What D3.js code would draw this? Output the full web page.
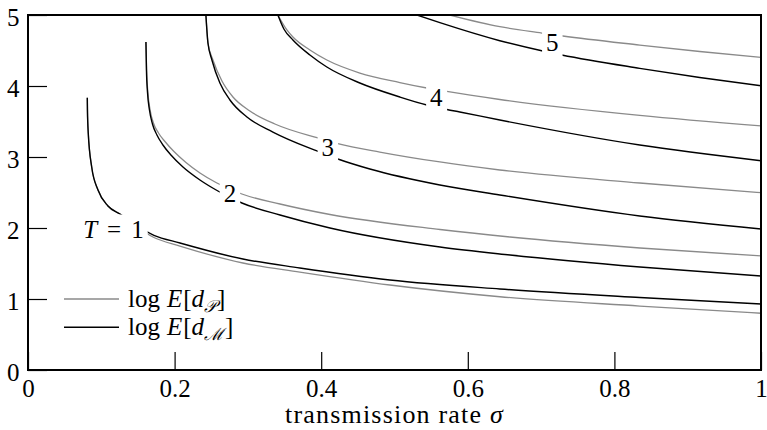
<!DOCTYPE html>
<html>
<head>
<meta charset="utf-8">
<script src="https://cdn.jsdelivr.net/npm/d3@7/dist/d3.min.js"></script>
<style>
  html, body { margin: 0; padding: 0; background: #fff; }
  svg { display: block; font-family: "Liberation Serif", "Times New Roman", "DejaVu Serif", serif; }
</style>
</head>
<body>
<svg id="chart" width="767" height="430"></svg>
<script>
// Axis ticks
const sigmaTicks = [0, 0.2, 0.4, 0.6, 0.8, 1];
const logTicks = [0, 1, 2, 3, 4, 5];
const levels = [1, 2, 3, 4, 5];

// log E[d_P] contours, one per transmission horizon T  ([sigma, log value])
const dP1 = [[0.0809,3.835],[0.0811,3.662],[0.0822,3.338],[0.0869,2.859],[0.0955,2.535],[0.1091,2.310],[0.1255,2.197],[0.1718,1.866],[0.2073,1.746],[0.2932,1.507],[0.3709,1.380],[0.4937,1.197],[0.6437,1.032],[0.8346,0.901],[1.0,0.799]];
const dP2 = [[0.1609,4.620],[0.1618,4.225],[0.1635,3.915],[0.1666,3.662],[0.1711,3.479],[0.1780,3.338],[0.1868,3.218],[0.1991,3.077],[0.2155,2.923],[0.2346,2.775],[0.2577,2.634],[0.2918,2.479],[0.3438,2.338],[0.4120,2.190],[0.5621,1.979],[0.6576,1.873],[0.8349,1.718],[1.0,1.606]];
const dP3 = [[0.2427,5.0],[0.2455,4.606],[0.2523,4.366],[0.2646,4.070],[0.2796,3.845],[0.3027,3.648],[0.3368,3.465],[0.3955,3.268],[0.4227,3.190],[0.4800,3.070],[0.5619,2.930],[0.6437,2.817],[0.8346,2.634],[1.0,2.497]];
const dP4 = [[0.3409,5.0],[0.3532,4.789],[0.3614,4.690],[0.3846,4.507],[0.4077,4.366],[0.4527,4.183],[0.5073,4.049],[0.5441,3.972],[0.5714,3.923],[0.6437,3.810],[0.8346,3.585],[1.0,3.437]];
const dP5 = [[0.5755,5.0],[0.6437,4.835],[0.7010,4.746],[0.7296,4.704],[0.8346,4.577],[0.9164,4.486],[1.0,4.404]];

// log E[d_M] contours
const dM1 = [[0.0809,3.835],[0.0811,3.662],[0.0822,3.338],[0.0869,2.859],[0.0955,2.535],[0.1091,2.310],[0.1255,2.197],[0.1718,1.897],[0.2073,1.789],[0.2932,1.563],[0.3709,1.437],[0.4937,1.268],[0.6437,1.141],[0.8346,1.021],[1.0,0.930]];
const dM2 = [[0.1609,4.620],[0.1616,4.225],[0.1630,3.915],[0.1657,3.662],[0.1698,3.465],[0.1759,3.310],[0.1841,3.169],[0.1950,3.028],[0.2114,2.859],[0.2346,2.676],[0.2591,2.521],[0.2918,2.352],[0.3438,2.183],[0.4120,2.000],[0.5621,1.732],[0.6576,1.620],[0.8349,1.451],[1.0,1.324]];
const dM3 = [[0.2427,5.0],[0.2455,4.606],[0.2509,4.366],[0.2618,4.042],[0.2755,3.803],[0.2987,3.563],[0.3341,3.352],[0.3941,3.085],[0.4227,2.972],[0.4664,2.831],[0.5619,2.606],[0.6437,2.465],[0.8346,2.169],[1.0,1.986]];
const dM4 = [[0.3409,5.0],[0.3491,4.803],[0.3614,4.648],[0.3846,4.437],[0.4077,4.268],[0.4527,4.042],[0.5073,3.845],[0.5441,3.732],[0.5714,3.669],[0.5891,3.634],[0.6437,3.521],[0.8346,3.169],[1.0,2.948]];
const dM5 = [[0.5305,5.0],[0.5619,4.892],[0.6437,4.638],[0.7023,4.493],[0.7282,4.437],[0.8346,4.249],[0.9164,4.120],[1.0,4.004]];

// where each contour's T label sits, in (sigma, log value)
const labelAnchors = [[0.1166,1.986],[0.2755,2.486],[0.4091,3.127],[0.5571,3.831],[0.7153,4.606]];

const dPSeries = [dP1, dP2, dP3, dP4, dP5];
const dMSeries = [dM1, dM2, dM3, dM4, dM5];

const W = 767, H = 430;
const margin = {left: 28, right: 6, top: 15, bottom: 60};
const FS = 25;

const svg = d3.select("#chart");
const x = d3.scaleLinear().domain([0, 1]).range([margin.left, W - margin.right]);
const y = d3.scaleLinear().domain([0, 5]).range([H - margin.bottom, margin.top]);

svg.append("defs").append("clipPath").attr("id", "plot-clip")
  .append("rect")
  .attr("x", x(0)).attr("y", y(5))
  .attr("width", x(1) - x(0)).attr("height", y(0) - y(5));

const line = d3.line()
  .x(d => x(d[0]))
  .y(d => y(d[1]))
  .curve(d3.curveMonotoneX);

const curves = svg.append("g").attr("clip-path", "url(#plot-clip)");

curves.selectAll("path.dp")
  .data(dPSeries)
  .join("path")
  .attr("class", "dp")
  .attr("d", line)
  .attr("fill", "none")
  .attr("stroke", "#8a8a8a")
  .attr("stroke-width", 1.3);

curves.selectAll("path.dm")
  .data(dMSeries)
  .join("path")
  .attr("class", "dm")
  .attr("d", line)
  .attr("fill", "none")
  .attr("stroke", "#000")
  .attr("stroke-width", 1.4);

// contour labels on white boxes
const labels = svg.append("g");
levels.forEach((T, i) => {
  const [sx, sy] = labelAnchors[i];
  const g = labels.append("g");
  const rect = g.append("rect").attr("fill", "#fff");
  const t = g.append("text")
    .attr("x", x(sx)).attr("y", y(sy))
    .attr("text-anchor", "middle")
    .attr("dominant-baseline", "central")
    .attr("font-size", FS)
    .attr("fill", "#000");
  if (T === 1) {
    t.append("tspan").attr("font-style", "italic").text("T");
    t.append("tspan").attr("dx", 10).text("=");
    t.append("tspan").attr("dx", 10).text(String(T));
  } else {
    t.text(String(T));
  }
  const bb = t.node().getBBox();
  const padX = 4, padY = 1;
  rect.attr("x", bb.x - padX).attr("y", bb.y - padY)
    .attr("width", bb.width + 2 * padX).attr("height", bb.height + 2 * padY);
});

// axes with inward ticks
const xAxis = d3.axisBottom(x)
  .tickValues(sigmaTicks)
  .tickFormat(d3.format("~g"))
  .tickSizeInner(-18).tickSizeOuter(0).tickPadding(9);
const gx = svg.append("g").attr("transform", `translate(0,${y(0)})`).call(xAxis);
gx.attr("font-family", null);
gx.select(".domain").remove();
gx.selectAll(".tick line").attr("stroke", "#000").attr("stroke-width", 1.2);
gx.selectAll(".tick text").attr("font-size", FS).attr("fill", "#000");

const yAxis = d3.axisLeft(y)
  .tickValues(logTicks)
  .tickFormat(d3.format("~g"))
  .tickSizeInner(-19).tickSizeOuter(0).tickPadding(8.5);
const gy = svg.append("g").attr("transform", `translate(${x(0)},0)`).call(yAxis);
gy.attr("font-family", null);
gy.select(".domain").remove();
gy.selectAll(".tick line").attr("stroke", "#000").attr("stroke-width", 1.2);
gy.selectAll(".tick text").attr("font-size", FS).attr("fill", "#000")
  .attr("dy", "0.42em");

// frame
svg.append("rect")
  .attr("x", x(0)).attr("y", y(5))
  .attr("width", x(1) - x(0)).attr("height", y(0) - y(5))
  .attr("fill", "none").attr("stroke", "#000").attr("stroke-width", 2);

// axis title
const title = svg.append("text")
  .attr("x", (x(0) + x(1)) / 2).attr("y", 423)
  .attr("text-anchor", "middle")
  .attr("font-size", FS + 1)
  .attr("letter-spacing", 1.2)
  .attr("fill", "#000");
title.append("tspan").text("transmission rate ");
title.append("tspan").attr("font-style", "italic").text("σ");

// legend
const legendItems = [
  {color: "#8a8a8a", width: 1.3, sub: "𝒫"},
  {color: "#000", width: 1.4, sub: "ℳ"}
];
const legend = svg.append("g");
legendItems.forEach((it, i) => {
  const ly = 299 + i * 28.3;
  legend.append("line")
    .attr("x1", 64).attr("x2", 119)
    .attr("y1", ly).attr("y2", ly)
    .attr("stroke", it.color).attr("stroke-width", it.width);
  const t = legend.append("text")
    .attr("x", 128).attr("y", ly + 7.5)
    .attr("font-size", FS).attr("fill", "#000");
  t.append("tspan").text("log");
  t.append("tspan").attr("dx", 7).attr("font-style", "italic").text("E");
  t.append("tspan").attr("dx", 1).text("[");
  t.append("tspan").attr("font-style", "italic").text("d");
  t.append("tspan").attr("font-size", 17).attr("dy", 5).attr("font-style", "italic").text(it.sub);
  t.append("tspan").attr("dy", -5).attr("dx", 1).text("]");
});
</script>
</body>
</html>
